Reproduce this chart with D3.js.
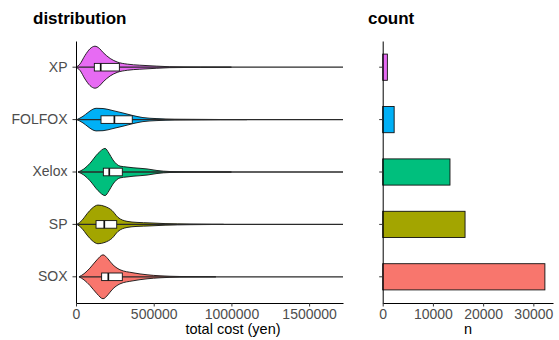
<!DOCTYPE html>
<html>
<head>
<meta charset="utf-8">
<script src="https://cdn.jsdelivr.net/npm/d3@7"></script>
<style>
body{margin:0;background:#fff;}
text{font-family:"Liberation Sans",Arial,sans-serif;}
</style>
</head>
<body>
<div id="canvas"></div>
<script>
//treatments top to bottom
var treatments = ['XP','FOLFOX','Xelox','SP','SOX'];
var colors = ['#E76BF3','#00B0F6','#00BF7D','#A3A500','#F8766D'];
var counts = [930, 2280, 13400, 16400, 32300];

//box stats (yen)
var minCost = [0, 6000, 13000, 6000, 19000];
var q1Cost = [118000, 161000, 176000, 129000, 165000];
var medianCost = [159000, 247000, 214000, 182000, 208000];
var q3Cost = [279000, 362000, 298000, 262000, 298000];
var maxCost = [1718000, 1718000, 1718000, 1718000, 1718000];

//violin outlines: [cost, relative density]
var xpDensity = [[0,0],[25000,0.13],[58000,0.5],[90000,0.78],[122000,0.89],[150000,0.8],[175000,0.62],[220000,0.37],[265000,0.22],[330000,0.13],[410000,0.085],[520000,0.045],[600000,0.02],[800000,0.005],[1000000,0]];
var folfoxDensity = [[6000,0],[45000,0.14],[77000,0.3],[103000,0.42],[129000,0.48],[174000,0.47],[238000,0.38],[302000,0.28],[367000,0.17],[431000,0.085],[521000,0.042],[637000,0.017],[927000,0.004],[1100000,0]];
var xeloxDensity = [[13000,0],[51000,0.13],[90000,0.37],[142000,0.79],[187000,1.0],[212000,0.8],[238000,0.51],[283000,0.25],[328000,0.21],[367000,0.18],[457000,0.13],[521000,0.064],[605000,0.02],[798000,0.004],[1000000,0]];
var spDensity = [[6000,0],[38600,0.17],[70800,0.45],[103000,0.68],[141600,0.82],[187000,0.76],[231700,0.59],[270000,0.3],[328000,0.13],[392500,0.085],[476000,0.064],[573000,0.034],[733600,0.013],[950000,0]];
var soxDensity = [[19300,0],[51500,0.13],[90000,0.37],[135000,0.72],[174000,0.93],[206000,0.76],[231700,0.55],[283000,0.3],[367000,0.17],[457000,0.085],[540500,0.042],[669000,0.013],[900000,0]];
var densities = [xpDensity, folfoxDensity, xeloxDensity, spDensity, soxDensity];

var costTicks = [0, 500000, 1000000, 1500000];
var countTicks = [0, 10000, 20000, 30000];

var W = 559, H = 340;
var svg = d3.select('#canvas').append('svg')
    .attr('width', W).attr('height', H);

var top_ = 41, bottom = 303;

//---- left panel: violins
var x = d3.scaleLinear().domain([0, 1718000]).range([76, 343]);
var y = d3.scaleBand().domain(treatments).range([top_, bottom]);
var half = y.bandwidth()*0.9/2;

var left = svg.append('g').attr('class','distribution');

var area = d3.area()
    .x(function(d){return x(d[0])})
    .y0(function(d){return -d[1]*half})
    .y1(function(d){return d[1]*half})
    .curve(d3.curveMonotoneX);

treatments.forEach(function(t, i){
    var cy = y(t) + y.bandwidth()/2;
    var g = left.append('g').attr('transform','translate(0,'+cy+')');
    g.append('path')
        .datum(densities[i])
        .attr('d', area)
        .style('fill', colors[i])
        .style('stroke','#111')
        .style('stroke-width','0.9px');
    //whiskers + outliers
    g.append('line')
        .attr('x1', x(minCost[i])).attr('x2', x(maxCost[i]))
        .style('stroke','#2a2a2a').style('stroke-width','1.3px');
    var bh = 3.8;
    g.append('rect')
        .attr('x', x(q1Cost[i])).attr('y', -bh)
        .attr('width', x(q3Cost[i]) - x(q1Cost[i])).attr('height', bh*2)
        .style('fill','#fff').style('stroke','#111').style('stroke-width','0.9px');
    g.append('line')
        .attr('x1', x(medianCost[i])).attr('x2', x(medianCost[i]))
        .attr('y1', -bh).attr('y2', bh)
        .style('stroke','#111').style('stroke-width','1.7px');
});

function styleAxis(sel){
    sel.select('.domain').style('stroke','#000').style('stroke-width','1px');
    sel.selectAll('.tick line').style('stroke','#333').style('stroke-width','1px');
    sel.selectAll('.tick text').style('fill','#4d4d4d').style('font-size','14px')
        .style('font-family','"Liberation Sans",Arial,sans-serif');
}

left.append('g')
    .attr('transform','translate(76,0)')
    .call(d3.axisLeft(y).tickSize(3.5).tickSizeOuter(0).tickPadding(5))
    .call(styleAxis);

left.append('g')
    .attr('transform','translate(0,'+bottom+')')
    .call(d3.axisBottom(x).tickValues(costTicks).tickFormat(d3.format('d')).tickSize(3.5).tickSizeOuter(0).tickPadding(3))
    .call(styleAxis);

svg.append('text').attr('x',233).attr('y',334)
    .attr('text-anchor','middle').style('font-size','14.5px').style('fill','#000')
    .text('total cost (yen)');

svg.append('text').attr('x',33).attr('y',24)
    .style('font-size','17px').style('font-weight','bold').text('distribution');

//---- right panel: counts
var xn = d3.scaleLinear().domain([0, d3.max(counts)*1.05]).range([382.7, 553]);
var right = svg.append('g').attr('class','count');

right.selectAll('.bar')
    .data(treatments)
    .enter()
    .append('rect').attr('class','bar')
    .attr('x', xn(0))
    .attr('y', function(d){return y(d) + y.bandwidth()*0.25})
    .attr('height', y.bandwidth()*0.5)
    .attr('width', function(d,i){return xn(counts[i]) - xn(0)})
    .style('fill', function(d,i){return colors[i]})
    .style('stroke','#111').style('stroke-width','0.9px');

right.append('g')
    .attr('transform','translate('+xn(0)+',0)')
    .call(d3.axisLeft(y).tickSize(3.5).tickSizeOuter(0).tickFormat(''))
    .call(styleAxis);

right.append('g')
    .attr('transform','translate(0,'+bottom+')')
    .call(d3.axisBottom(xn).tickValues(countTicks).tickFormat(d3.format('d')).tickSize(3.5).tickSizeOuter(0).tickPadding(3))
    .call(styleAxis);

svg.append('text').attr('x',468).attr('y',334)
    .attr('text-anchor','middle').style('font-size','14.5px').style('fill','#000')
    .text('n');

svg.append('text').attr('x',368).attr('y',24)
    .style('font-size','17px').style('font-weight','bold').text('count');
</script>
</body>
</html>
